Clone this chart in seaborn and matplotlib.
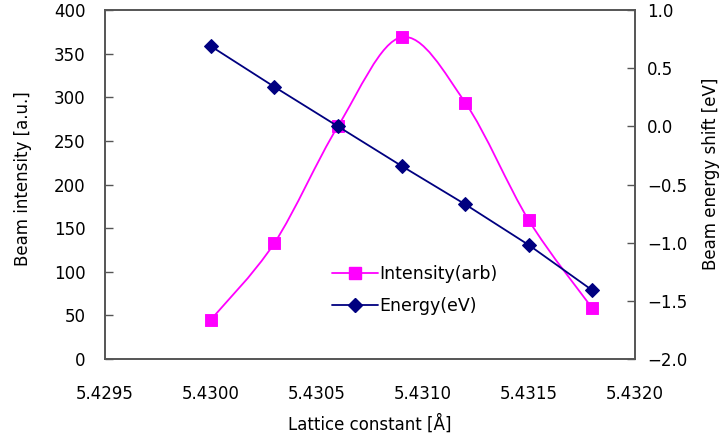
import numpy as np
import matplotlib
matplotlib.use('Agg')
import matplotlib.pyplot as plt
from matplotlib.path import Path
from matplotlib.patches import PathPatch
from matplotlib.lines import Line2D
from matplotlib.ticker import FormatStrFormatter, FuncFormatter
import seaborn as sns

lattice = [5.4300, 5.4303, 5.4306, 5.4309, 5.4312, 5.4315, 5.4318]
intensity = [45, 133, 267, 369, 294, 159, 58]
energy = [0.69, 0.34, 0.0, -0.34, -0.67, -1.02, -1.41]

sns.set_style('white')
plt.rcParams['font.family'] = ['DejaVu Sans']
plt.rcParams['text.color'] = 'black'
plt.rcParams['axes.labelcolor'] = 'black'

pink = '#FF00FF'
navy = '#000080'

fig = plt.figure(figsize=(7.23, 4.41), dpi=100)
ax = fig.add_axes([0.145, 0.186, 0.733, 0.791])
ax2 = ax.twinx()


def smooth_path(xs, ys):
    # excel style smoothed line: catmull-rom segments as cubic beziers
    pts = np.column_stack([xs, ys]).astype(float)
    n = len(pts)
    verts = [pts[0]]
    codes = [Path.MOVETO]
    for i in range(n - 1):
        p0 = pts[max(i - 1, 0)]
        p1 = pts[i]
        p2 = pts[i + 1]
        p3 = pts[min(i + 2, n - 1)]
        c1 = p1 + (p2 - p0) / 6
        c2 = p2 - (p3 - p1) / 6
        verts += [c1, c2, p2]
        codes += [Path.CURVE4] * 3
    return Path(verts, codes)


ax.add_patch(PathPatch(smooth_path(lattice, intensity), fill=False,
                       edgecolor=pink, lw=1.3, zorder=3))
sns.scatterplot(x=lattice, y=intensity, ax=ax, marker='s', s=65,
                color=pink, edgecolor=pink, zorder=4)

sns.lineplot(x=lattice, y=energy, ax=ax2, color=navy, lw=1.3,
             marker='D', markersize=7, markeredgecolor=navy, zorder=4)

ax.set_xlim(5.4295, 5.4320)
ax.set_ylim(0, 400)
ax2.set_ylim(-2.0, 1.0)
ax.set_xticks(np.arange(5.4295, 5.43201, 0.0005))
ax.set_yticks(np.arange(0, 401, 50))
ax2.set_yticks(np.arange(-2.0, 1.01, 0.5))
ax.xaxis.set_major_formatter(FormatStrFormatter('%.4f'))
ax2.yaxis.set_major_formatter(FuncFormatter(lambda v, p: f'{v:.1f}'.replace('-', '\u2212')))

ax.tick_params(axis='x', direction='in', length=6, width=1, color='#555555',
               labelcolor='black', labelsize=12, pad=19)
ax.tick_params(axis='y', direction='in', length=6, width=1, color='#555555',
               labelcolor='black', labelsize=12, pad=14)
ax2.tick_params(axis='y', direction='in', length=6, width=1, color='#555555',
                labelcolor='black', labelsize=12, pad=9)

for a in (ax, ax2):
    for sp in a.spines.values():
        sp.set_color('#555555')
        sp.set_linewidth(1.2)

ax.set_xlabel('Lattice constant [Å]', fontsize=12, labelpad=8)
ax.set_ylabel('Beam intensity [a.u.]', fontsize=12)
ax2.set_ylabel('Beam energy shift [eV]', fontsize=12)
ax.yaxis.set_label_coords(-0.138, 0.516)
ax2.yaxis.set_label_coords(1.126, 0.53)

handles = [
    Line2D([], [], color=pink, lw=1.3, marker='s', markersize=8),
    Line2D([], [], color=navy, lw=1.3, marker='D', markersize=7),
]
ax2.legend(handles, ['Intensity(arb)', 'Energy(eV)'], loc='lower left',
           bbox_to_anchor=(0.40, 0.08), frameon=False, fontsize=12.5,
           handlelength=2.6, handletextpad=0.1, labelspacing=0.85)

fig.savefig('out.png', dpi=100)
